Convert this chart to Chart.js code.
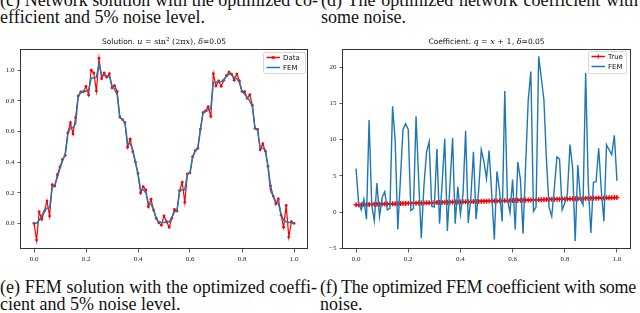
<!DOCTYPE html>
<html>
<head>
<meta charset="utf-8">
<script src="https://cdn.jsdelivr.net/npm/chart.js@4.4.0/dist/chart.umd.min.js"></script>
<style>
  html, body { margin: 0; padding: 0; background: #fff; width: 640px; height: 313px; overflow: hidden; position: relative; }
  .cap { position: absolute; font-family: 'Liberation Serif', serif; font-size: 18px; line-height: 17px; color: #111; white-space: nowrap; }
  canvas { position: absolute; }
</style>
</head>
<body>
<div class="cap" style="left:0;top:-8px" data-w="318">(c) Network solution with the optimized co-</div>
<div class="cap" style="left:0;top:9px">efficient and 5% noise level.</div>
<div class="cap" style="left:321px;top:-8px" data-w="317">(d) The optimized network coefficient with</div>
<div class="cap" style="left:321px;top:9px">some noise.</div>
<div class="cap" style="left:0;top:279px" data-w="317">(e) FEM solution with the optimized coeffi-</div>
<div class="cap" style="left:0;top:296px">cient and 5% noise level.</div>
<div class="cap" style="left:320px;top:279px" data-w="316">(f) The optimized FEM coefficient with some</div>
<div class="cap" style="left:320px;top:296px">noise.</div>

<canvas id="solChart" width="315" height="240" style="left:0;top:30px"></canvas>
<canvas id="coefChart" width="320" height="240" style="left:320px;top:30px"></canvas>

<script>
const gridX = [
  0.00, 0.01, 0.02, 0.03, 0.04, 0.05, 0.06, 0.07, 0.08, 0.09,
  0.10, 0.11, 0.12, 0.13, 0.14, 0.15, 0.16, 0.17, 0.18, 0.19,
  0.20, 0.21, 0.22, 0.23, 0.24, 0.25, 0.26, 0.27, 0.28, 0.29,
  0.30, 0.31, 0.32, 0.33, 0.34, 0.35, 0.36, 0.37, 0.38, 0.39,
  0.40, 0.41, 0.42, 0.43, 0.44, 0.45, 0.46, 0.47, 0.48, 0.49,
  0.50, 0.51, 0.52, 0.53, 0.54, 0.55, 0.56, 0.57, 0.58, 0.59,
  0.60, 0.61, 0.62, 0.63, 0.64, 0.65, 0.66, 0.67, 0.68, 0.69,
  0.70, 0.71, 0.72, 0.73, 0.74, 0.75, 0.76, 0.77, 0.78, 0.79,
  0.80, 0.81, 0.82, 0.83, 0.84, 0.85, 0.86, 0.87, 0.88, 0.89,
  0.90, 0.91, 0.92, 0.93, 0.94, 0.95, 0.96, 0.97, 0.98, 0.99,
  1.00
];

// left panel: noisy data and FEM solution
const solutionData = [
  0.000, -0.110, 0.075, 0.025, 0.080, 0.145, 0.047, 0.252, 0.243, 0.318,
  0.368, 0.418, 0.444, 0.590, 0.658, 0.584, 0.690, 0.832, 0.858, 0.860,
  0.895, 0.838, 1.000, 0.982, 0.865, 1.078, 0.945, 0.982, 0.955, 0.978,
  0.885, 0.900, 0.860, 0.695, 0.678, 0.657, 0.497, 0.550, 0.468, 0.400,
  0.326, 0.198, 0.240, 0.218, 0.108, 0.157, 0.087, 0.033, 0.003, -0.012,
  0.048, 0.010, -0.026, 0.033, 0.090, 0.080, 0.213, 0.268, 0.137, 0.322,
  0.330, 0.435, 0.475, 0.490, 0.616, 0.723, 0.735, 0.762, 0.700, 0.978,
  0.897, 0.930, 0.895, 0.935, 0.965, 0.988, 0.975, 0.935, 0.975, 0.930,
  0.862, 0.860, 0.817, 0.840, 0.770, 0.620, 0.613, 0.480, 0.520, 0.470,
  0.372, 0.245, 0.178, 0.126, 0.160, 0.054, -0.026, 0.117, -0.090, 0.010,
  0.000
];
const solutionFem = [
  0.000, 0.000, 0.020, 0.050, 0.080, 0.100, 0.100, 0.235, 0.250, 0.300,
  0.360, 0.410, 0.450, 0.580, 0.625, 0.625, 0.650, 0.830, 0.855, 0.860,
  0.865, 0.870, 0.950, 0.950, 0.955, 1.040, 0.970, 0.965, 0.965, 0.960,
  0.900, 0.875, 0.840, 0.690, 0.680, 0.655, 0.520, 0.520, 0.480, 0.400,
  0.320, 0.220, 0.220, 0.200, 0.130, 0.125, 0.090, 0.030, 0.010, 0.005,
  0.005, 0.005, 0.010, 0.035, 0.075, 0.085, 0.210, 0.220, 0.220, 0.320,
  0.330, 0.430, 0.470, 0.490, 0.610, 0.720, 0.730, 0.740, 0.750, 0.920,
  0.920, 0.925, 0.925, 0.940, 0.960, 0.975, 0.970, 0.955, 0.945, 0.920,
  0.860, 0.845, 0.820, 0.800, 0.760, 0.620, 0.610, 0.490, 0.490, 0.480,
  0.370, 0.210, 0.180, 0.140, 0.130, 0.060, 0.020, 0.010, 0.005, 0.003,
  0.000
];

// right panel: true coefficient and FEM coefficient
const coefTrue = [
  1.00, 1.01, 1.02, 1.03, 1.04, 1.05, 1.06, 1.07, 1.08, 1.09,
  1.10, 1.11, 1.12, 1.13, 1.14, 1.15, 1.16, 1.17, 1.18, 1.19,
  1.20, 1.21, 1.22, 1.23, 1.24, 1.25, 1.26, 1.27, 1.28, 1.29,
  1.30, 1.31, 1.32, 1.33, 1.34, 1.35, 1.36, 1.37, 1.38, 1.39,
  1.40, 1.41, 1.42, 1.43, 1.44, 1.45, 1.46, 1.47, 1.48, 1.49,
  1.50, 1.51, 1.52, 1.53, 1.54, 1.55, 1.56, 1.57, 1.58, 1.59,
  1.60, 1.61, 1.62, 1.63, 1.64, 1.65, 1.66, 1.67, 1.68, 1.69,
  1.70, 1.71, 1.72, 1.73, 1.74, 1.75, 1.76, 1.77, 1.78, 1.79,
  1.80, 1.81, 1.82, 1.83, 1.84, 1.85, 1.86, 1.87, 1.88, 1.89,
  1.90, 1.91, 1.92, 1.93, 1.94, 1.95, 1.96, 1.97, 1.98, 1.99,
  2.00
];
const coefFem = [
  6.0, 1.2, 0.3, 1.8, -1.0, 12.7, 1.0, -1.2, 4.0, -0.6,
  2.0, 2.8, 0.3, 0.5, 14.6, 9.8, -2.4, 4.5, 11.4, 12.2,
  11.4, 0.2, 0.5, 13.2, 4.5, -3.6, 3.5, 8.2, 9.7, 0.8,
  0.7, 8.7, -1.6, 4.0, 10.1, -2.6, 3.8, 10.2, -1.6, 3.5,
  -0.3, 2.5, 11.2, -1.5, 2.0, 8.3, -1.0, 3.0, 8.6, 7.0,
  4.6, 8.5, 2.5, -3.8, 5.6, 2.9, -1.3, 16.7, 1.9, -0.1,
  4.5, -2.4, 6.9, 4.5, -3.0, 6.5, 15.5, 19.4, 0.1, 0.7,
  21.5, 18.5, 15.5, 7.0, 0.6, -0.6, 3.3, 7.6, 7.3, 0.3,
  1.2, 2.5, 9.3, 6.1, -4.0, 6.5, 1.8, 1.0, 19.2, 3.8,
  -2.9, 4.1, 4.2, 8.8, 3.0, -1.3, 9.3, 8.6, 7.9, 10.6,
  4.3
];

const xTicks = [0, 0.2, 0.4, 0.6, 0.8, 1.0];
const solutionTicks = [0, 0.2, 0.4, 0.6, 0.8, 1.0];
const coefTicks = [-5, 0, 5, 10, 15, 20];

const BLUE = '#1f77b4';
const RED = '#ff0000';
const SPINE = '#333333';
const tickFont = { family: "'Liberation Serif', serif", size: 7 };

const toPoints = (values) => values.map((y, i) => ({ x: gridX[i], y }));

// full caption lines are justified to the column width; a line that is too
// long is tightened letter by letter instead of squeezing the word gaps
document.querySelectorAll('.cap[data-w]').forEach((el) => {
  const diff = Number(el.dataset.w) - el.getBoundingClientRect().width;
  if (diff < 0) {
    el.style.letterSpacing = (diff / el.textContent.length) + 'px';
  } else {
    const gaps = (el.textContent.match(/ /g) || []).length;
    el.style.wordSpacing = (diff / gaps) + 'px';
  }
});

function drawRich(ctx, parts, cx, cy) {
  let total = 0;
  parts.forEach((p) => { ctx.font = p.font; total += ctx.measureText(p.text).width; });
  let x = cx - total / 2;
  ctx.textAlign = 'left';
  ctx.textBaseline = 'alphabetic';
  ctx.fillStyle = '#111';
  parts.forEach((p) => {
    ctx.font = p.font;
    ctx.fillText(p.text, x, cy + (p.dy || 0));
    x += ctx.measureText(p.text).width;
  });
}

function drawLegend(ctx, area, box, items) {
  const x = area.right - box.right - box.w;
  const y = area.top + box.top;
  ctx.save();
  ctx.fillStyle = 'rgba(255,255,255,0.85)';
  ctx.strokeStyle = '#cccccc';
  ctx.lineWidth = 0.8;
  ctx.beginPath();
  ctx.roundRect(x + 0.5, y + 0.5, box.w, box.h, 2);
  ctx.fill();
  ctx.stroke();
  ctx.font = "7px 'DejaVu Sans'";
  ctx.textBaseline = 'middle';
  ctx.textAlign = 'left';
  items.forEach((item, i) => {
    const ry = y + 5.5 + i * 10;
    ctx.strokeStyle = item.color;
    ctx.lineWidth = 1.5;
    ctx.beginPath();
    ctx.moveTo(x + 3.5, ry);
    ctx.lineTo(x + 17, ry);
    ctx.stroke();
    if (item.marker === 'dot') {
      ctx.fillStyle = item.color;
      ctx.beginPath();
      ctx.arc(x + 10.25, ry, 1.6, 0, Math.PI * 2);
      ctx.fill();
    } else if (item.marker === 'cross') {
      ctx.lineWidth = 1;
      ctx.beginPath();
      ctx.moveTo(x + 10.25, ry - 2.2);
      ctx.lineTo(x + 10.25, ry + 2.2);
      ctx.stroke();
    }
    ctx.fillStyle = '#111';
    ctx.fillText(item.label, x + 20, ry + 0.5);
  });
  ctx.restore();
}

function decorations(title, legendBox, legendItems) {
  return {
    id: 'decorations',
    afterDraw(chart) {
      const { ctx, chartArea: a } = chart;
      ctx.save();
      ctx.strokeStyle = SPINE;
      ctx.lineWidth = 1;
      ctx.strokeRect(Math.round(a.left) - 0.5, Math.round(a.top) + 0.5,
        Math.round(a.right - a.left) + 1, Math.round(a.bottom - a.top) - 1);
      ctx.restore();
      drawRich(ctx, title, (a.left + a.right) / 2, a.top - 5);
      drawLegend(ctx, a, legendBox, legendItems);
    }
  };
}

function makeAxes(yMin, yMax, yTicks, yFormat, yWidth) {
  const grid = { display: true, drawOnChartArea: false, drawTicks: true, tickLength: 3.5, color: SPINE, lineWidth: 0.8 };
  return {
    x: {
      type: 'linear',
      min: -0.05,
      max: 1.05,
      afterBuildTicks: (scale) => { scale.ticks = xTicks.map((value) => ({ value })); },
      afterFit: (scale) => { scale.height = 21; },
      grid,
      border: { display: false },
      ticks: { font: tickFont, color: '#222', padding: 2, maxRotation: 0, callback: (v) => v.toFixed(1) }
    },
    y: {
      type: 'linear',
      min: yMin,
      max: yMax,
      afterBuildTicks: (scale) => { scale.ticks = yTicks.map((value) => ({ value })); },
      afterFit: (scale) => { scale.width = yWidth; },
      grid,
      border: { display: false },
      ticks: { font: tickFont, color: '#222', padding: 3, callback: yFormat }
    }
  };
}

const sans = "7.5px 'DejaVu Sans'";
const serif = "8px 'DejaVu Serif'";
const ital = "italic 8px 'DejaVu Serif'";

new Chart(document.getElementById('solChart').getContext('2d'), {
  type: 'line',
  data: {
    datasets: [
      {
        label: 'Data',
        data: toPoints(solutionData),
        borderColor: RED,
        borderWidth: 1.2,
        pointRadius: 1.4,
        pointBackgroundColor: RED,
        pointBorderWidth: 0,
        tension: 0,
        order: 2
      },
      {
        label: 'FEM',
        data: toPoints(solutionFem),
        borderColor: BLUE,
        borderWidth: 1.5,
        pointRadius: 0,
        tension: 0,
        order: 1
      }
    ]
  },
  options: {
    responsive: false,
    animation: false,
    layout: { padding: { top: 19, right: 8, left: 0, bottom: 0 } },
    plugins: { legend: { display: false }, tooltip: { enabled: false }, title: { display: false } },
    scales: makeAxes(-0.168, 1.139, solutionTicks, (v) => v.toFixed(1), 21)
  },
  plugins: [decorations(
    [
      { text: 'Solution. ', font: sans },
      { text: 'u', font: ital },
      { text: ' = sin', font: serif },
      { text: '2', font: "5.5px 'DejaVu Serif'", dy: -3 },
      { text: ' (2π', font: serif },
      { text: 'x', font: ital },
      { text: '), ', font: serif },
      { text: 'δ', font: ital },
      { text: '=0.05', font: sans }
    ],
    { right: 2, top: 3, w: 42, h: 21 },
    [{ label: 'Data', color: RED, marker: 'dot' }, { label: 'FEM', color: BLUE }]
  )]
});

new Chart(document.getElementById('coefChart').getContext('2d'), {
  type: 'line',
  data: {
    datasets: [
      {
        label: 'True',
        data: toPoints(coefTrue),
        borderColor: RED,
        borderWidth: 1.8,
        pointStyle: 'cross',
        pointRadius: 2.5,
        pointBorderColor: RED,
        pointBorderWidth: 1.4,
        tension: 0,
        order: 2
      },
      {
        label: 'FEM',
        data: toPoints(coefFem),
        borderColor: BLUE,
        borderWidth: 1.4,
        pointRadius: 0,
        tension: 0,
        order: 1
      }
    ]
  },
  options: {
    responsive: false,
    animation: false,
    layout: { padding: { top: 19, right: 10, left: 0, bottom: 0 } },
    plugins: { legend: { display: false }, tooltip: { enabled: false }, title: { display: false } },
    scales: makeAxes(-5.1, 22.5, coefTicks, (v) => (v < 0 ? '\u2212' + Math.abs(v) : String(v)), 23)
  },
  plugins: [decorations(
    [
      { text: 'Coefficient. ', font: sans },
      { text: 'q', font: ital },
      { text: ' = ', font: serif },
      { text: 'x', font: ital },
      { text: ' + 1, ', font: serif },
      { text: 'δ', font: ital },
      { text: '=0.05', font: sans }
    ],
    { right: 4, top: 2, w: 38, h: 22 },
    [{ label: 'True', color: RED, marker: 'cross' }, { label: 'FEM', color: BLUE }]
  )]
});
</script>
</body>
</html>
